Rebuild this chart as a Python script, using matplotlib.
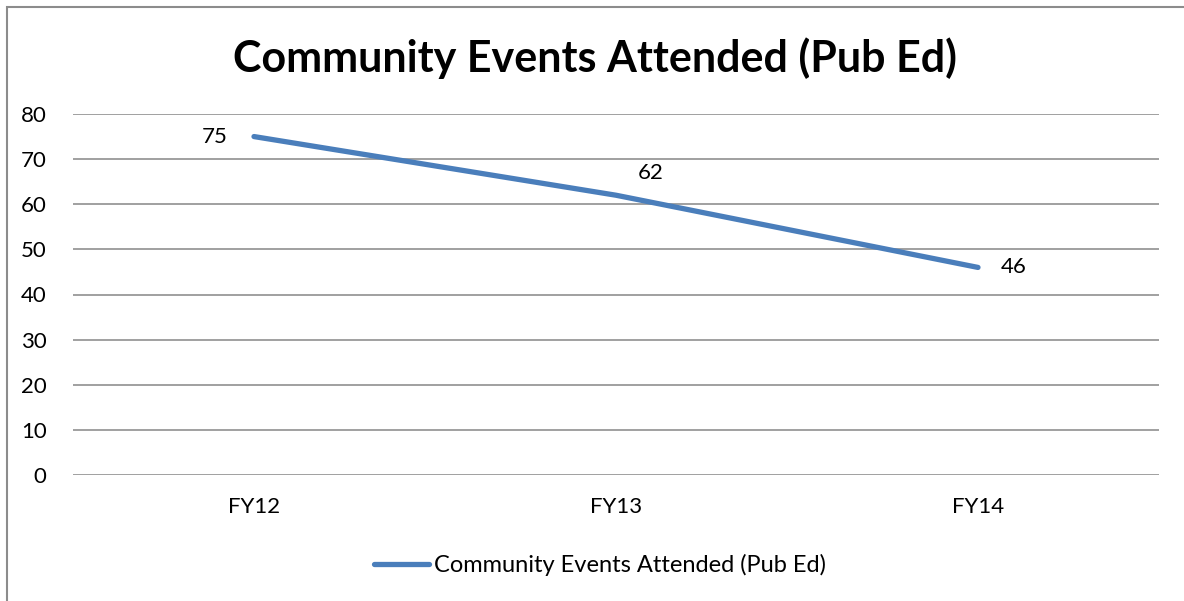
import numpy as np
import matplotlib.pyplot as plt
from matplotlib.patches import Rectangle

plt.rcParams['font.family'] = ['Lato', 'DejaVu Sans']

categories = ['FY12', 'FY13', 'FY14']
events = [75, 62, 46]
series_name = 'Community Events Attended (Pub Ed)'

fig = plt.figure(figsize=(11.84, 6.01), dpi=100)
fig.patches.append(Rectangle((6.5 / 1184, -0.01), 1.1, 1 - 6.5 / 601 + 0.01,
                             transform=fig.transFigure, fill=False,
                             edgecolor='#8c8c8c', linewidth=1.5))

ax = fig.add_axes([73 / 1184, 1 - 475 / 601, (1159 - 73) / 1184, (475 - 114) / 601])
x = np.arange(len(categories))
line, = ax.plot(x, events, color='#4a7ebb', linewidth=3.8, solid_capstyle='round',
                label=series_name, zorder=3)

ax.set_xlim(-0.5, len(categories) - 0.5)
ax.set_ylim(0, 80)
ax.set_yticks(range(0, 81, 10))
ax.set_xticks(x)
ax.set_xticklabels(categories)
ax.tick_params(axis='both', length=0, labelsize=16, colors='black')
ax.tick_params(axis='y', pad=19)
ax.tick_params(axis='x', pad=16)
ax.grid(axis='y', color='#868686', linewidth=1.1)
for s in ax.spines.values():
    s.set_visible(False)

offsets = [(-39, 0), (35, 22), (36, 0)]
for xi, v, (dx, dy) in zip(x, events, offsets):
    ax.annotate(str(v), (xi, v), xytext=(dx, dy), textcoords='offset pixels',
                ha='center', va='center', fontsize=16)

fig.text(595 / 1184, 1 - 58 / 601, series_name, ha='center', va='center',
         fontsize=31, fontweight='bold')

fig.legend(handles=[line], loc='center', bbox_to_anchor=(600 / 1184, 1 - 565 / 601),
           frameon=False, fontsize=17, handlelength=2.3, handletextpad=0.2)

fig.savefig('out.png', dpi=100)
